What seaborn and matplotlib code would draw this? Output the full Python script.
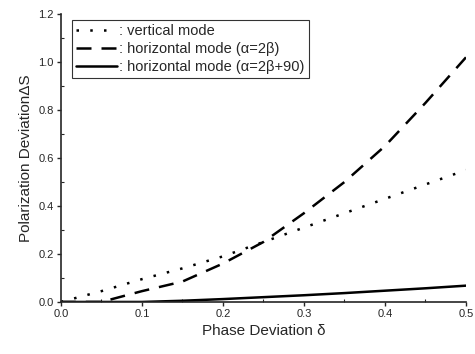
import numpy as np
import pandas as pd
import matplotlib
matplotlib.use('Agg')
import matplotlib.pyplot as plt
import seaborn as sns
from matplotlib.ticker import MultipleLocator, FormatStrFormatter

# data
delta = [0.0, 0.05, 0.1, 0.15, 0.2, 0.25, 0.3, 0.35, 0.4, 0.45, 0.5]
vertical = [0.0, 0.045, 0.095, 0.14, 0.19, 0.25, 0.31, 0.37, 0.43, 0.49, 0.55]
horiz_a = [0.0, 0.0, 0.045, 0.085, 0.16, 0.25, 0.37, 0.50, 0.65, 0.83, 1.02]
horiz_b = [0.0, 0.0, 0.0, 0.005, 0.012, 0.02, 0.028, 0.037, 0.047, 0.057, 0.068]

labels = [': vertical mode', ': horizontal mode (\u03b1=2\u03b2)', ': horizontal mode (\u03b1=2\u03b2+90)']

sns.set_style('ticks')
plt.rcParams['font.family'] = ['Liberation Sans', 'DejaVu Sans']

fig = plt.figure(figsize=(4.75, 3.54), dpi=100)
ax = fig.add_axes([0.128, 0.147, 0.853, 0.813])

df = pd.DataFrame({'x': delta, 'v': vertical, 'a': horiz_a, 'b': horiz_b})
sns.lineplot(data=df, x='x', y='v', ax=ax, color='black', lw=1.8, linestyle=(0, (1, 4.5)), label=labels[0])
sns.lineplot(data=df, x='x', y='a', ax=ax, color='black', lw=1.8, linestyle=(0, (6, 4)), label=labels[1])
sns.lineplot(data=df, x='x', y='b', ax=ax, color='black', lw=1.8, linestyle='-', label=labels[2])

ax.set_xlim(0, 0.5)
ax.set_ylim(0, 1.2)
ax.xaxis.set_major_locator(MultipleLocator(0.1))
ax.xaxis.set_minor_locator(MultipleLocator(0.05))
ax.yaxis.set_major_locator(MultipleLocator(0.2))
ax.yaxis.set_minor_locator(MultipleLocator(0.1))
ax.xaxis.set_major_formatter(FormatStrFormatter('%.1f'))
ax.yaxis.set_major_formatter(FormatStrFormatter('%.1f'))
ax.tick_params(which='major', direction='out', length=3, width=1, labelsize=8, pad=2)
ax.tick_params(which='minor', direction='in', length=2, width=0.8)

sns.despine(ax=ax)
for s in ['left', 'bottom']:
    ax.spines[s].set_linewidth(1.2)

ax.set_xlabel('Phase Deviation \u03b4', fontsize=11)
ax.set_ylabel('Polarization Deviation\u0394S', fontsize=11)

leg = ax.legend(loc='upper left', bbox_to_anchor=(0.02, 0.99), fontsize=10.5, frameon=True,
                fancybox=False, edgecolor='black', handlelength=2.8, handletextpad=0.15,
                borderpad=0.3, labelspacing=0.25, borderaxespad=0.2)
leg.get_frame().set_linewidth(0.8)

fig.savefig('out.png', dpi=100)
